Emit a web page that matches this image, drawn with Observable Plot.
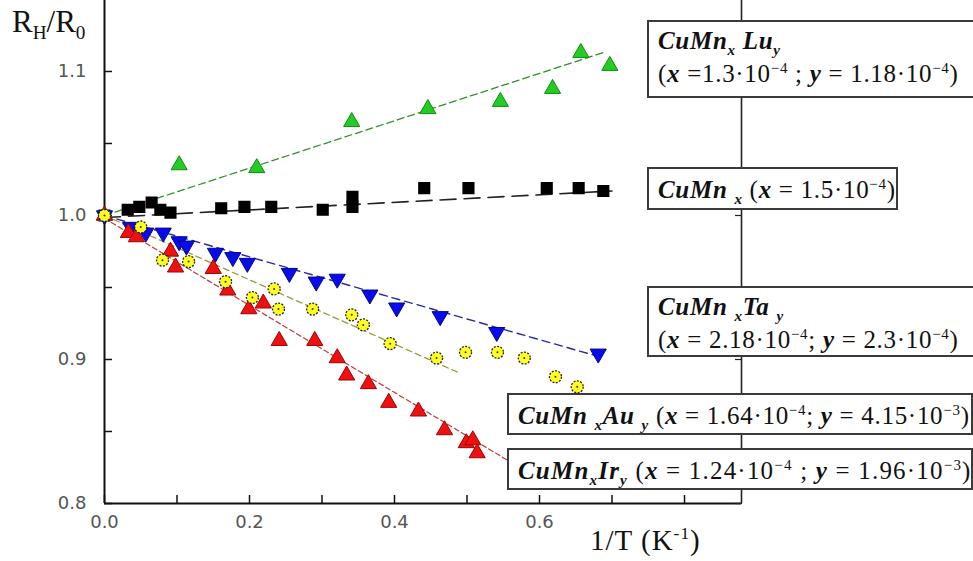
<!DOCTYPE html>
<html><head><meta charset="utf-8">
<script src="https://cdn.jsdelivr.net/npm/d3@7"></script>
<script src="https://cdn.jsdelivr.net/npm/@observablehq/plot@0.6"></script>
<style>
body{margin:0;background:#fff;overflow:hidden;}
#wrap{position:relative;width:973px;height:561px;overflow:hidden;background:#fff;}
#wrap svg{position:absolute;left:0;top:0;}
.box{position:absolute;background:#fff;border:2px solid #3a3a3a;box-sizing:border-box;font-family:"Liberation Serif","Times New Roman",serif;font-size:25px;letter-spacing:0.7px;color:#111;padding-left:9px;white-space:nowrap;line-height:1;}
.b{font-weight:bold;font-style:italic;}
sub,sup{font-size:60%;line-height:0;}
.ttl{position:absolute;font-family:"Liberation Serif","Times New Roman",serif;color:#111;white-space:nowrap;}
</style></head>
<body>
<div id="wrap"></div>
<script>
// ---- data ----
const xTicks = [0, 0.1, 0.2, 0.3, 0.4, 0.5, 0.6, 0.7, 0.8];
const xLabels = [0, 0.2, 0.4, 0.6];
const yTicks = [0.8, 0.85, 0.9, 0.95, 1.0, 1.05, 1.1];
const yLabels = [0.8, 0.9, 1.0, 1.1];
const xMax = 0.8786;
const yMin = 0.8, yMax = 1.1493;

// CuMnxLuy (green triangles)
const luX = [0, 0.103, 0.210, 0.341, 0.446, 0.546, 0.618, 0.657, 0.697];
const luY = [1.000, 1.035, 1.033, 1.065, 1.074, 1.079, 1.088, 1.113, 1.104];
// CuMnx (black squares)
const mnX = [0, 0.032, 0.048, 0.065, 0.077, 0.091, 0.161, 0.193, 0.230, 0.301, 0.342, 0.342, 0.441, 0.502, 0.610, 0.654, 0.688];
const mnY = [1.000, 1.004, 1.006, 1.009, 1.004, 1.002, 1.005, 1.006, 1.006, 1.004, 1.013, 1.006, 1.019, 1.019, 1.019, 1.019, 1.017];
// CuMnxTay (blue down-triangles)
const taX = [0, 0.036, 0.057, 0.081, 0.103, 0.113, 0.153, 0.177, 0.197, 0.255, 0.292, 0.321, 0.366, 0.403, 0.463, 0.541, 0.681];
const taY = [1.000, 0.992, 0.988, 0.988, 0.982, 0.979, 0.974, 0.971, 0.967, 0.960, 0.954, 0.956, 0.945, 0.936, 0.930, 0.919, 0.904];
// CuMnxAuy (yellow circles)
const auX = [0, 0.050, 0.080, 0.116, 0.167, 0.204, 0.234, 0.240, 0.287, 0.341, 0.357, 0.394, 0.458, 0.498, 0.542, 0.579, 0.622, 0.652];
const auY = [1.000, 0.992, 0.969, 0.968, 0.954, 0.943, 0.949, 0.935, 0.935, 0.931, 0.924, 0.911, 0.901, 0.905, 0.905, 0.901, 0.888, 0.881];
// CuMnxIry (red triangles)
const irX = [0, 0.033, 0.044, 0.091, 0.098, 0.150, 0.170, 0.199, 0.219, 0.241, 0.290, 0.321, 0.334, 0.364, 0.392, 0.433, 0.469, 0.499, 0.508, 0.514];
const irY = [1.000, 0.988, 0.985, 0.975, 0.964, 0.963, 0.948, 0.935, 0.939, 0.913, 0.913, 0.901, 0.889, 0.883, 0.870, 0.864, 0.851, 0.842, 0.844, 0.835];

// dashed fit lines (end points)
const luFitX = [0, 0.687], luFitY = [1.000, 1.113];
const mnFitX = [0, 0.700], mnFitY = [0.9986, 1.017];
const taFitX = [0, 0.675], taFitY = [1.000, 0.903];
const auFitX = [0, 0.488], auFitY = [1.000, 0.891];
const irFitX = [0, 0.556], irFitY = [0.998, 0.830];

const pts = (xs, ys) => xs.map((x, i) => ({x, y: ys[i]}));

const lineStyle = (color, dash, w) => ({x: "x", y: "y", stroke: color, strokeWidth: w, strokeDasharray: dash});

const plot = Plot.plot({
  width: 973, height: 561,
  marginLeft: 104, marginRight: 232, marginTop: 0, marginBottom: 58,
  x: {domain: [0, xMax]},
  y: {domain: [yMin, yMax]},
  style: {fontFamily: "DejaVu Sans, sans-serif", fontSize: "18px", color: "#555", background: "transparent", overflow: "visible"},
  marks: [
    // frame lines
    Plot.ruleX([0], {stroke: "#111", strokeWidth: 2}),
    Plot.ruleX([xMax], {stroke: "#222", strokeWidth: 1.6}),
    Plot.ruleY([yMin], {stroke: "#111", strokeWidth: 2}),
    // inward ticks
    Plot.axisX({ticks: xTicks, tickSize: 8, dy: -8, tickFormat: () => "", label: null, stroke: "#111", strokeWidth: 1.5}),
    Plot.axisY({anchor: "left", ticks: yTicks, tickSize: 8, dx: 8, tickFormat: () => "", label: null, stroke: "#111", strokeWidth: 1.5}),
    Plot.axisY({anchor: "right", ticks: yLabels, tickSize: 7, dx: -7, tickFormat: () => "", label: null, stroke: "#222", strokeWidth: 1.2}),
    // tick labels
    Plot.axisX({ticks: xLabels, tickSize: 0, tickPadding: 12, tickFormat: d3.format(".1f"), label: null, fill: "#555"}),
    Plot.axisY({anchor: "left", ticks: yLabels, tickSize: 0, tickPadding: 18, tickFormat: d3.format(".1f"), label: null, fill: "#555"}),
    // fit lines
    Plot.line(pts(luFitX, luFitY), lineStyle("#2f8f2f", "7,4", 1.3)),
    Plot.line(pts(mnFitX, mnFitY), lineStyle("#222", "16,8", 1.6)),
    Plot.line(pts(taFitX, taFitY), lineStyle("#2a2aa0", "8,5", 1.4)),
    Plot.line(pts(auFitX, auFitY), lineStyle("#9a9a3a", "6,4", 1.3)),
    Plot.line(pts(irFitX, irFitY), lineStyle("#c03a3a", "5,3", 1.2)),
    // markers
    Plot.dot(pts(mnX, mnY), {x: "x", y: "y", symbol: "square", r: 6, fill: "#000", stroke: "#000"}),
    Plot.dot(pts(luX, luY), {x: "x", y: "y", symbol: "triangle", r: 6, fill: "#22cc22", stroke: "#138a13", strokeWidth: 1}),
    Plot.dot(pts(taX, taY), {x: "x", y: "y", symbol: "triangle", rotate: 180, r: 6, fill: "#0a0aee", stroke: "#000a80", strokeWidth: 1}),
    Plot.dot(pts(irX, irY), {x: "x", y: "y", symbol: "triangle", r: 6, fill: "#ee1111", stroke: "#a00000", strokeWidth: 1}),
    Plot.dot(pts(auX, auY), {x: "x", y: "y", symbol: "circle", r: 6, fill: "#ffff22", stroke: "#222", strokeWidth: 1.3, strokeDasharray: "2,1.4"}),
    Plot.dot(pts(auX, auY), {x: "x", y: "y", r: 1, fill: "#333"})
  ]
});

const wrap = document.getElementById("wrap");
wrap.appendChild(plot);

const html = `
<div class="ttl" style="left:12px;top:4px;font-size:31px;">R<sub style="font-size:62%">H</sub>/R<sub style="font-size:62%">0</sub></div>
<div class="ttl" style="left:590px;top:524px;font-size:29px;letter-spacing:1px;">1/T (K<sup style="font-size:60%">-1</sup>)</div>
<div class="box" style="left:647px;top:20px;width:340px;height:78px;padding-top:6px;">
  <span class="b">CuMn<sub>x</sub> Lu<sub>y</sub></span><br>
  <span style="display:inline-block;margin-top:8px">(<span class="b">x</span> =1.3·10<sup>−4</sup> ; <span class="b">y</span> = 1.18·10<sup>−4</sup>)</span>
</div>
<div class="box" style="left:647px;top:167px;width:251px;height:43px;padding-top:8px;">
  <span class="b">CuMn <sub>x</sub></span> (<span class="b">x</span> = 1.5·10<sup>−4</sup>)
</div>
<div class="box" style="left:647px;top:286px;width:340px;height:71px;padding-top:6px;">
  <span class="b">CuMn <sub>x</sub>Ta <sub>y</sub></span><br>
  <span style="display:inline-block;margin-top:8px">(<span class="b">x</span> = 2.18·10<sup>−4</sup>; <span class="b">y</span> = 2.3·10<sup>−4</sup>)</span>
</div>
<div class="box" style="left:507px;top:393px;width:466px;height:42px;padding-top:8px;">
  <span class="b">CuMn <sub>x</sub>Au <sub>y</sub></span> (<span class="b">x</span> = 1.64·10<sup>−4</sup>; <span class="b">y</span> = 4.15·10<sup>−3</sup>)
</div>
<div class="box" style="left:507px;top:448px;width:466px;height:42px;padding-top:8px;letter-spacing:1.2px;">
  <span class="b">CuMn<sub>x</sub>Ir<sub>y</sub></span> (<span class="b">x</span> = 1.24·10<sup>−4</sup> ; <span class="b">y</span> = 1.96·10<sup>−3</sup>)
</div>`;
wrap.insertAdjacentHTML("beforeend", html);
</script>
</body></html>
